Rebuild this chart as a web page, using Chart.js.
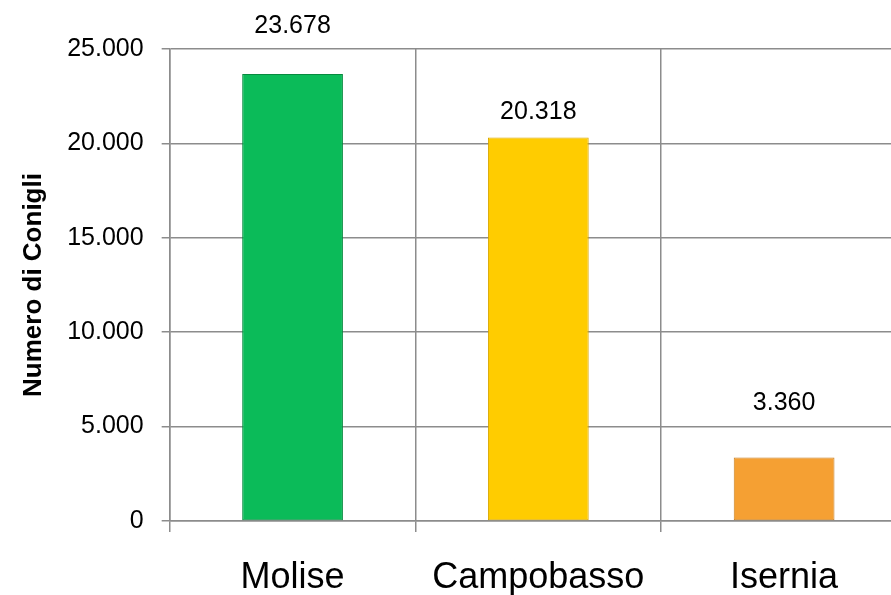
<!DOCTYPE html>
<html>
<head>
<meta charset="utf-8">
<script src="https://cdn.jsdelivr.net/npm/chart.js@4.4.0/dist/chart.umd.min.js"></script>
<style>
  html, body { margin: 0; padding: 0; background: #fff; }
  #wrap { width: 891px; height: 595px; overflow: hidden; }
</style>
</head>
<body>
<div id="wrap"><canvas id="chart" width="910" height="595"></canvas></div>
<script>
const categories = ['Molise', 'Campobasso', 'Isernia'];
const conigli = [23678, 20318, 3360];
const yTicks = [0, 5000, 10000, 15000, 20000, 25000];

const barColors = ['#0bbb59', '#ffcc00', '#f5a033'];
const barEdges = ['#078a3f', '#d9a800', '#c77d1e'];
const gridColor = '#8c8c8c';
const FONT = '"Liberation Sans", Arial, sans-serif';

// Excel places the value labels a bit irregularly above the bars
const labelOffsets = [48, 25, 54];

function fmt(v) {
    return String(v).replace(/\B(?=(\d{3})+(?!\d))/g, '.');
}

const valueLabels = {
    id: 'valueLabels',
    afterDatasetsDraw(chart) {
        const ctx = chart.ctx;
        const meta = chart.getDatasetMeta(0);
        ctx.save();
        ctx.font = '25px ' + FONT;
        ctx.fillStyle = '#000';
        ctx.textAlign = 'center';
        ctx.textBaseline = 'middle';
        meta.data.forEach((bar, i) => {
            ctx.fillText(fmt(conigli[i]), bar.x, bar.y - labelOffsets[i]);
        });
        ctx.restore();
    }
};

new Chart(document.getElementById('chart').getContext('2d'), {
    type: 'bar',
    data: {
        labels: categories,
        datasets: [{
            label: 'Numero di Conigli',
            data: conigli,
            backgroundColor: barColors,
            borderColor: barEdges,
            borderWidth: 1,
            borderSkipped: false,
            barPercentage: 0.41,
            categoryPercentage: 1
        }]
    },
    options: {
        responsive: false,
        animation: false,
        layout: { padding: { top: 49, right: 3, left: 18, bottom: -29 } },
        scales: {
            x: {
                offset: true,
                grid: { offset: true, color: gridColor, lineWidth: 1.5, tickLength: 11 },
                border: { color: gridColor, width: 1.5 },
                ticks: { color: '#000', font: { family: FONT, size: 36, lineHeight: 1 }, padding: 28 }
            },
            y: {
                min: 0,
                max: 25000,
                afterBuildTicks: axis => { axis.ticks = yTicks.map(v => ({ value: v })); },
                grid: { color: gridColor, lineWidth: 1.5, tickLength: 8 },
                border: { color: gridColor, width: 1.5 },
                ticks: {
                    color: '#000',
                    font: { family: FONT, size: 25 },
                    padding: 18,
                    callback: v => fmt(v)
                },
                title: {
                    display: true,
                    text: 'Numero di Conigli',
                    color: '#000',
                    font: { family: FONT, size: 26, weight: 'bold' },
                    padding: { top: 0, bottom: 0 }
                }
            }
        },
        plugins: {
            legend: { display: false },
            tooltip: { enabled: false }
        }
    },
    plugins: [valueLabels]
});
</script>
</body>
</html>
